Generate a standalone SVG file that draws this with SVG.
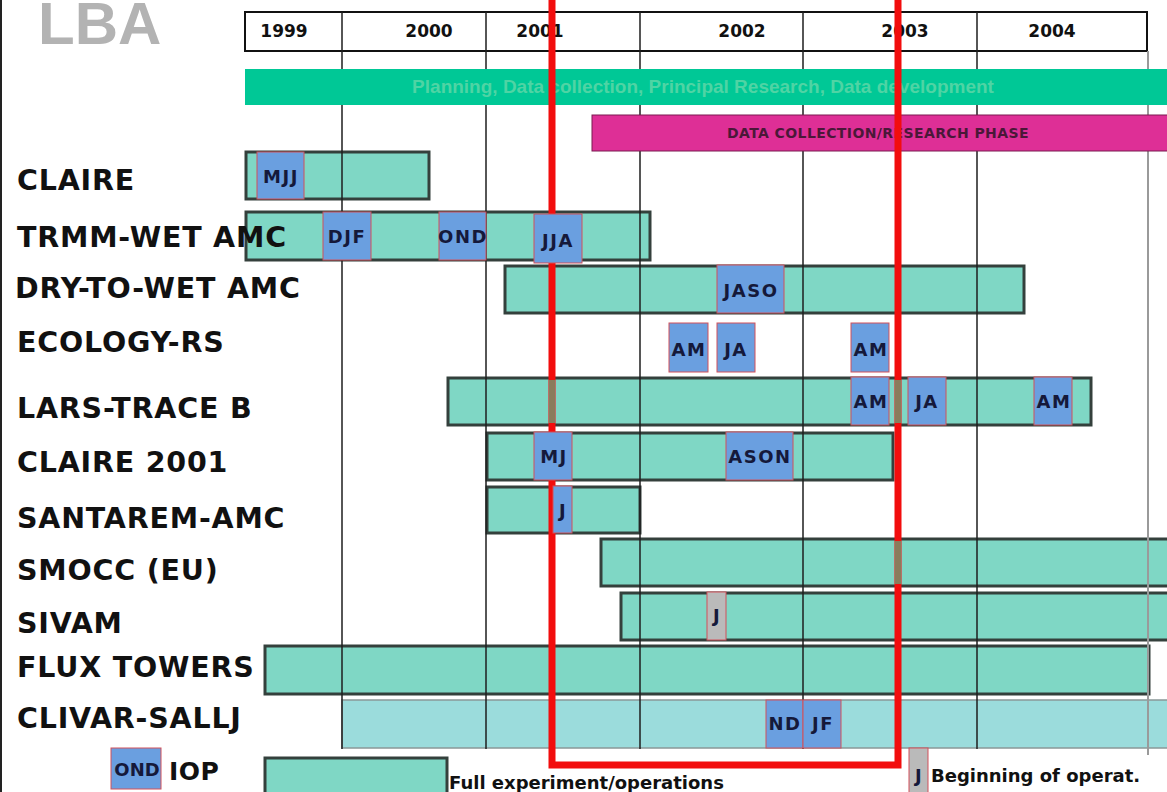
<svg xmlns="http://www.w3.org/2000/svg" width="1167" height="792" viewBox="0 0 1167 792">
<style>
.bar{fill:#7fd7c5;stroke:#34403c;stroke-width:3}
.bar2{fill:#9bdcdc;stroke:#8a9898;stroke-width:1.5}
.iop{fill:#6a9fe0;stroke:#d2505a;stroke-width:1}
.beg{fill:#bababa;stroke:#d2505a;stroke-width:1}
.grid{stroke:#1e1e1e;stroke-width:1.5}
.lbl{font-family:"DejaVu Sans",sans-serif;font-weight:bold;font-size:28.5px;letter-spacing:0.8px;fill:#111}
.bt{font-family:"DejaVu Sans",sans-serif;font-weight:bold;font-size:18px;letter-spacing:1.5px;fill:#15193a;text-anchor:middle}
.yr{font-family:"DejaVu Sans",sans-serif;font-weight:bold;font-size:17px;fill:#111;text-anchor:middle}
.lg{font-family:"DejaVu Sans",sans-serif;font-weight:bold;font-size:18px;fill:#111}
.mix{fill:#8a7c5c}
</style>
<rect x="0" y="0" width="1167" height="792" fill="#ffffff"/>
<rect x="0" y="0" width="2" height="792" fill="#222"/>
<text x="38" y="44" font-family="Liberation Sans, Arial, sans-serif" font-weight="bold" font-size="60" fill="#b3b3b3">LBA</text>

<g id="bars">
  <rect id="bar-claire" class="bar" x="246" y="152" width="183" height="47"/>
  <rect id="bar-trmm" class="bar" x="246" y="212" width="404" height="48"/>
  <rect id="bar-drytowet" class="bar" x="505" y="266" width="519" height="47"/>
  <rect id="bar-lars" class="bar" x="448" y="378" width="643" height="47"/>
  <rect id="bar-claire2001" class="bar" x="487" y="433" width="406" height="47"/>
  <rect id="bar-santarem" class="bar" x="487" y="487" width="153" height="46"/>
  <rect id="bar-smocc" class="bar" x="601" y="539" width="570" height="47"/>
  <rect id="bar-sivam" class="bar" x="621" y="593" width="550" height="47"/>
  <rect id="bar-flux" class="bar" x="265" y="646" width="884" height="48"/>
  <rect id="bar-clivar" class="bar2" x="342" y="700" width="830" height="48"/>
</g>

<g id="header">
  <rect x="245" y="12" width="902" height="39" fill="#ffffff" stroke="#111" stroke-width="2"/>
</g>

<g id="grid">
  <line class="grid" x1="342" y1="12" x2="342" y2="749"/>
  <line class="grid" x1="486" y1="12" x2="486" y2="749"/>
  <line class="grid" x1="640" y1="12" x2="640" y2="749"/>
  <line class="grid" x1="803" y1="12" x2="803" y2="749"/>
  <line class="grid" x1="977" y1="12" x2="977" y2="749"/>
  <line x1="1148" y1="51" x2="1148" y2="755" stroke="#9a9a9a" stroke-width="2"/>
</g>

<g id="phases">
  <rect x="245" y="69" width="925" height="36" fill="#00c896"/>
  <text x="703" y="93" font-family="Liberation Sans, Arial, sans-serif" font-weight="bold" font-size="19" fill="#4fd4a4" text-anchor="middle">Planning, Data collection, Principal Research, Data development</text>
  <rect x="592" y="115" width="580" height="36" fill="#de2f96" stroke="#7a1a50" stroke-width="1"/>
  <text x="878" y="138" font-family="DejaVu Sans, sans-serif" font-weight="bold" font-size="14" letter-spacing="0.4" fill="#4a1838" text-anchor="middle">DATA COLLECTION/RESEARCH PHASE</text>
</g>

<g id="years">
  <text class="yr" x="284" y="37">1999</text>
  <text class="yr" x="429" y="37">2000</text>
  <text class="yr" x="540" y="37">2001</text>
  <text class="yr" x="742" y="37">2002</text>
  <text class="yr" x="905" y="37">2003</text>
  <text class="yr" x="1052" y="37">2004</text>
</g>

<g id="connectors">
  <path d="M552 0 V765 H898 V0" fill="none" stroke="#f20d0d" stroke-width="7"/>
</g>

<g id="overlaps">
  <rect class="mix" x="549" y="380" width="6" height="43"/>
  <rect class="mix" x="895" y="380" width="6" height="43"/>
  <rect class="mix" x="895" y="541" width="6" height="43"/>
</g>

<g id="iops">
  <g id="iop-claire">
    <rect class="iop" x="257" y="152" width="47" height="47"/>
    <text class="bt" x="281" y="183">MJJ</text>
  </g>
  <g id="iop-trmm">
    <rect class="iop" x="323" y="212" width="48" height="48"/>
    <text class="bt" x="347" y="243">DJF</text>
    <rect class="iop" x="439" y="212" width="47" height="48"/>
    <text class="bt" x="463" y="243">OND</text>
    <rect class="iop" x="534" y="214" width="48" height="49"/>
    <text class="bt" x="558" y="247">JJA</text>
  </g>
  <g id="iop-drytowet">
    <rect class="iop" x="717" y="265" width="67" height="48"/>
    <text class="bt" x="751" y="297">JASO</text>
  </g>
  <g id="iop-ecology">
    <rect class="iop" x="669" y="323" width="39" height="49"/>
    <text class="bt" x="689" y="356">AM</text>
    <rect class="iop" x="717" y="323" width="38" height="49"/>
    <text class="bt" x="736" y="356">JA</text>
    <rect class="iop" x="851" y="323" width="38" height="49"/>
    <text class="bt" x="871" y="356">AM</text>
  </g>
  <g id="iop-lars">
    <rect class="iop" x="851" y="377" width="38" height="48"/>
    <text class="bt" x="871" y="408">AM</text>
    <rect class="iop" x="908" y="377" width="38" height="48"/>
    <text class="bt" x="927" y="408">JA</text>
    <rect class="iop" x="1034" y="377" width="38" height="48"/>
    <text class="bt" x="1054" y="408">AM</text>
  </g>
  <g id="iop-claire2001">
    <rect class="iop" x="534" y="432" width="38" height="48"/>
    <text class="bt" x="554" y="463">MJ</text>
    <rect class="iop" x="726" y="432" width="67" height="48"/>
    <text class="bt" x="760" y="463">ASON</text>
  </g>
  <g id="iop-santarem">
    <rect class="iop" x="553" y="486" width="19" height="47"/>
    <text class="bt" x="563" y="517">J</text>
  </g>
  <g id="iop-sivam">
    <rect class="beg" x="707" y="592" width="19" height="48"/>
    <text class="bt" x="717" y="622">J</text>
  </g>
  <g id="iop-clivar">
    <rect class="iop" x="766" y="700" width="37" height="48"/>
    <text class="bt" x="785" y="730">ND</text>
    <rect class="iop" x="803" y="700" width="38" height="48"/>
    <text class="bt" x="823" y="730">JF</text>
  </g>
</g>

<g id="labels">
  <text class="lbl" x="17" y="190">CLAIRE</text>
  <text class="lbl" x="17" y="247">TRMM-WET AMC</text>
  <text class="lbl" x="15" y="298">DRY-TO-WET AMC</text>
  <text class="lbl" x="17" y="352">ECOLOGY-RS</text>
  <text class="lbl" x="17" y="418">LARS-TRACE B</text>
  <text class="lbl" x="17" y="472">CLAIRE 2001</text>
  <text class="lbl" x="17" y="528">SANTAREM-AMC</text>
  <text class="lbl" x="17" y="580">SMOCC (EU)</text>
  <text class="lbl" x="17" y="633">SIVAM</text>
  <text class="lbl" x="17" y="677">FLUX TOWERS</text>
  <text class="lbl" x="17" y="728">CLIVAR-SALLJ</text>
</g>

<g id="legend">
  <g id="legend-iop">
    <rect class="iop" x="111" y="748" width="50" height="41"/>
    <text class="bt" x="137" y="776" style="letter-spacing:0">OND</text>
    <text class="lbl" x="169" y="780" style="font-size:25px;letter-spacing:0.5px">IOP</text>
  </g>
  <g id="legend-full">
    <rect class="bar" x="265" y="758" width="182" height="40"/>
    <text class="lg" x="449" y="789">Full experiment/operations</text>
  </g>
  <g id="legend-begin">
    <rect class="beg" x="909" y="748" width="19" height="48"/>
    <text class="bt" x="919" y="782">J</text>
    <text class="lg" x="931" y="782">Beginning of operat.</text>
  </g>
</g>
</svg>
